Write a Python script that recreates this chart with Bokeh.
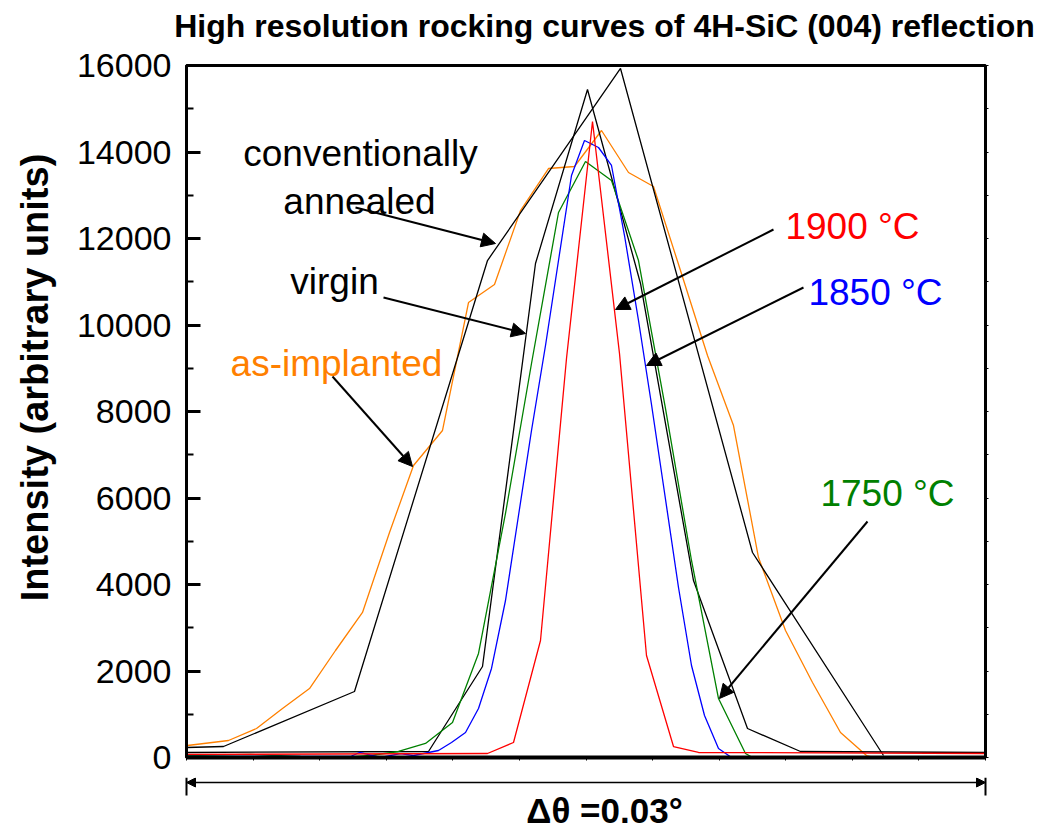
import math
from bokeh.plotting import figure
from bokeh.models import (Range1d, LinearAxis, FixedTicker, CustomJSTickFormatter,
                          Label, Arrow, NormalHead)
from bokeh.layouts import column, row
from bokeh.embed import file_html
from bokeh.resources import INLINE

# ---- data (x: position across the 0.03 deg scan window, 0..799 arbitrary steps) ----
conv_x = [0, 37, 168, 301, 434, 566, 697]
conv_y = [231, 254, 1526, 11491, 15931, 4740, 46]

virgin_x = [0, 242, 296, 349, 401, 454, 507, 561, 614, 799]
virgin_y = [116, 139, 2104, 11422, 15445, 10960, 4092, 670, 139, 116]

t1900_x = [0, 301, 327, 354, 380, 406, 433, 460, 487, 512, 799]
t1900_y = [70, 92, 347, 2705, 9225, 14705, 9341, 2358, 254, 116, 92]

t1850_x = [0, 114, 164, 173, 194, 214, 227, 252, 265, 279, 292, 305, 319, 332, 345,
           359, 372, 385, 398, 412, 425, 438, 452, 465, 478, 492, 505, 518, 532, 545, 799]
t1850_y = [23, 23, 23, 116, 0, 92, 46, 162, 347, 578, 1133, 2058, 3630, 5595, 7561,
           9526, 11491, 13457, 14266, 14104, 13688, 12069, 10104, 8162, 6127, 3931,
           2127, 971, 208, 0, 0]

t1750_x = [0, 64, 114, 156, 184, 212, 239, 266, 292, 319, 345, 372, 399, 425, 452,
           479, 505, 532, 559, 566, 799]
t1750_y = [46, 70, 23, 0, 46, 139, 324, 809, 2405, 5642, 9110, 12601, 13780, 13341,
           11491, 8069, 4555, 1364, 92, 0, 0]

impl_x = [1, 42, 70, 96, 123, 149, 176, 203, 227, 256, 282, 308, 334, 362, 388, 415,
          442, 467, 494, 521, 547, 572, 599, 626, 654, 680, 687]
impl_y = [277, 393, 670, 1133, 1595, 2474, 3353, 5202, 6751, 7561, 10520, 10936,
          12647, 13618, 13665, 14497, 13526, 13202, 11260, 9295, 7676, 4624, 2936,
          1734, 578, 46, 0]

y_ticks = [0, 2000, 4000, 6000, 8000, 10000, 12000, 14000, 16000]
title_text = "High resolution rocking curves of 4H-SiC (004) reflection"
y_label = "Intensity (arbitrary units)"
x_span_label = "\u0394\u03b8 =0.03\u00b0"

FONT = "Liberation Sans"
BLANK = "return ''"

# page geometry (px): title strip 0-45, plot row 45-777, bottom strip 777-831
T_H = 45
P_BOT = 777
L_W = 60
FRAME_TOP, FRAME_BOT = 65, 757


def strip(w, h, xr, yr, **kw):
    f = figure(width=w, height=h, output_backend="svg", toolbar_location=None,
               x_range=xr, y_range=yr, x_axis_location=None, y_axis_location=None,
               background_fill_color="white", border_fill_color="white", **kw)
    f.grid.visible = False
    f.outline_line_color = None
    return f


# ---- title strip (x, y in page pixels; y measured upward from strip bottom) ----
t = strip(1050, T_H, Range1d(0, 1050), Range1d(0, T_H),
          min_border_left=0, min_border_right=0, min_border_top=0, min_border_bottom=0)
t.add_layout(Label(x=604, y=T_H - 25, text=title_text, text_align="center",
                   text_baseline="middle", text_font=FONT, text_font_size="32px",
                   text_font_style="bold", text_color="black"))

# ---- left strip with the y-axis title (frame matches the plot frame vertically) ----
P_H = P_BOT - T_H
lft = strip(L_W, P_H, Range1d(0, L_W), Range1d(-FRAME_BOT, -FRAME_TOP),
            min_border_left=0, min_border_right=0, min_border_top=FRAME_TOP - T_H,
            min_border_bottom=P_BOT - FRAME_BOT)
lft.add_layout(Label(x=34, y=-377, text=y_label, angle=math.pi / 2,
                     text_align="center", text_baseline="middle", text_font=FONT,
                     text_font_size="38px", text_font_style="bold", text_color="black"))

# ---- main plot ----
p = figure(width=1050 - L_W, height=P_H, output_backend="svg", toolbar_location=None,
           x_range=Range1d(0, 799), y_range=Range1d(0, 16000),
           min_border_left=186 - L_W, min_border_right=65, min_border_top=FRAME_TOP - T_H,
           min_border_bottom=P_BOT - FRAME_BOT, background_fill_color="white",
           border_fill_color="white")
p.grid.visible = False
p.outline_line_color = "black"
p.outline_line_width = 3

ya = p.yaxis[0]
ya.ticker = FixedTicker(ticks=y_ticks, minor_ticks=list(range(1000, 16000, 2000)))
ya.major_tick_in = 14
ya.major_tick_out = 0
ya.minor_tick_in = 7
ya.minor_tick_out = 0
ya.major_tick_line_width = 3
ya.minor_tick_line_width = 2
ya.axis_line_width = 3
ya.major_label_text_font = FONT
ya.major_label_text_font_size = "34px"
ya.major_label_text_color = "black"
ya.major_label_standoff = 15

xa = p.xaxis[0]
xa.ticker = FixedTicker(ticks=[k * 799 / 12 for k in range(13)], minor_ticks=[])
xa.formatter = CustomJSTickFormatter(code=BLANK)
xa.major_tick_in = 0
xa.major_tick_out = 3
xa.major_tick_line_width = 1
xa.axis_line_width = 4
xa.major_label_standoff = 0
xa.major_label_text_font_size = "0px"

ra = LinearAxis(ticker=FixedTicker(ticks=list(range(0, 16001, 1000)), minor_ticks=[]),
                formatter=CustomJSTickFormatter(code=BLANK),
                axis_line_width=3, major_tick_in=0, major_tick_out=3,
                minor_tick_in=0, minor_tick_out=0, major_label_standoff=0,
                major_label_text_font_size="0px")
p.add_layout(ra, "right")

lw = 1.3
p.line(impl_x, impl_y, line_color="#FF8000", line_width=lw)
p.line(conv_x, conv_y, line_color="black", line_width=lw)
p.line(virgin_x, virgin_y, line_color="black", line_width=lw)
p.line(t1750_x, t1750_y, line_color="#008000", line_width=lw)
p.line(t1850_x, t1850_y, line_color="#0000FF", line_width=lw)
p.line(t1900_x, t1900_y, line_color="#FF0000", line_width=lw)


def px2x(px):
    return px - 186


def py2y(py):
    return (757 - py) / 0.04325


# annotation texts: (text, centre x px, middle y px, colour)
ann = [
    ("conventionally", 360, 153, "black"),
    ("annealed", 359, 201, "black"),
    ("virgin", 334, 281, "black"),
    ("as-implanted", 336, 363, "#FF8000"),
    ("1900 \u00b0C", 852, 226, "#FF0000"),
    ("1850 \u00b0C", 875, 292, "#0000FF"),
    ("1750 \u00b0C", 887, 493, "#008000"),
]
for txt, cx, my, col in ann:
    p.add_layout(Label(x=px2x(cx), y=py2y(my), text=txt, text_align="center",
                       text_baseline="middle", text_font=FONT,
                       text_font_size="37px", text_color=col))

arrows = [
    ((355, 207), (495, 243)),
    ((383, 297), (525, 333)),
    ((332, 376), (412, 466)),
    ((773, 229), (615, 309)),
    ((803, 287), (646, 365)),
    ((867, 521), (719, 698)),
]
for (sx, sy), (ex, ey) in arrows:
    p.add_layout(Arrow(x_start=px2x(sx), y_start=py2y(sy), x_end=px2x(ex), y_end=py2y(ey),
                       line_width=2, line_color="black",
                       end=NormalHead(size=14, fill_color="black", line_color="black")))

# ---- bottom strip: double arrow spanning the scan width and its label ----
Q_H = 831 - P_BOT
q = strip(1050, Q_H, Range1d(-186, 1050 - 186), Range1d(0, Q_H),
          min_border_left=0, min_border_right=0, min_border_top=0, min_border_bottom=0)


def qy(py):
    return 831 - py


q.add_layout(Arrow(x_start=0, y_start=qy(782), x_end=799, y_end=qy(782),
                   line_width=1.5, line_color="black",
                   start=NormalHead(size=9, fill_color="black", line_color="black"),
                   end=NormalHead(size=9, fill_color="black", line_color="black")))
for xb in (0, 799):
    q.add_layout(Arrow(x_start=xb, y_start=qy(777), x_end=xb, y_end=qy(795),
                       line_width=2, line_color="black", end=None))
q.add_layout(Label(x=px2x(604), y=qy(810), text=x_span_label, text_align="center",
                   text_baseline="middle", text_font=FONT, text_font_size="35px",
                   text_font_style="bold", text_color="black"))

layout = column(t, row(lft, p, spacing=0), q, spacing=0)
open("out.html", "w").write(file_html(layout, INLINE))
